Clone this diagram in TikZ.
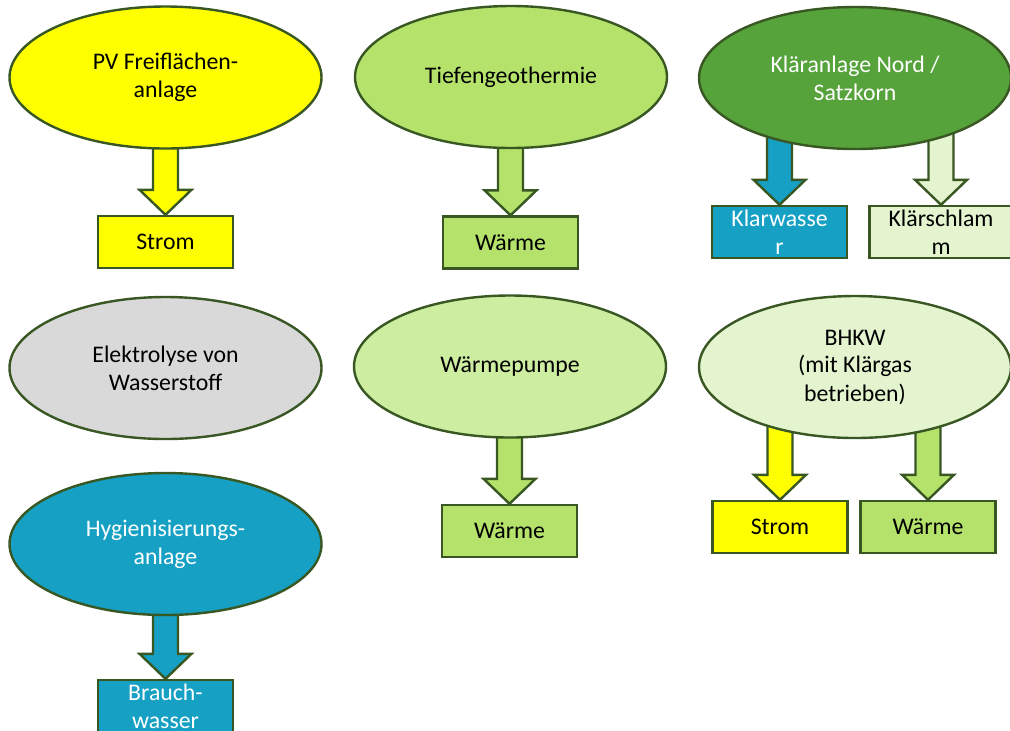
\documentclass[tikz,border=0pt]{standalone}
\usepackage{fontspec}
\setmainfont{Carlito}
\usetikzlibrary{shapes.geometric,backgrounds}
\definecolor{rand}{HTML}{385723}
\definecolor{gelb}{HTML}{FFFF00}
\definecolor{hellgruen}{HTML}{B4E26B}
\definecolor{mintgruen}{HTML}{CDEDA0}
\definecolor{blassgruen}{HTML}{E3F4CF}
\definecolor{dunkelgruen}{HTML}{56A23B}
\definecolor{blau}{HTML}{15A0C4}
\definecolor{grau}{HTML}{D9D9D9}

\begin{document}
\begin{tikzpicture}[x=0.5pt,y=-0.5pt,font=\fontsize{11.9}{14}\selectfont]
% Styles
\tikzstyle{quelle}=[ellipse,draw=rand,line width=1.2pt,minimum width=156pt,minimum height=71pt,inner sep=0pt,align=center]
\tikzstyle{produkt}=[rectangle,draw=rand,line width=1.2pt,minimum width=67.5pt,minimum height=26pt,inner sep=0pt,align=center]
\tikzstyle{pfeil}=[draw=rand,line width=1.2pt]
% Masse der Blockpfeile
\def\Schaft{6.25pt}
\def\Kopf{13pt}
\def\KopfLaenge{12.5pt}
% Text ueber zwei Zeilen (ragt aus dem Kasten)
\def\Zeilen#1{\parbox[c][20pt][c]{62pt}{\centering #1}}
% Blockpfeil : Farbe, Quelle, Ziel
\def\Fluss#1#2#3{%
\coordinate (#3oben) at (#2.center -| #3.north);
\draw[pfeil,fill=#1] ([xshift=-\Schaft]#3oben) -- ([xshift=-\Schaft,yshift=\KopfLaenge]#3.north) -- ([xshift=-\Kopf,yshift=\KopfLaenge]#3.north) -- (#3.north) -- ([xshift=\Kopf,yshift=\KopfLaenge]#3.north) -- ([xshift=\Schaft,yshift=\KopfLaenge]#3.north) -- ([xshift=\Schaft]#3oben) -- cycle;}
\useasboundingbox (0,0) rectangle (1010,730);
% Anlagen
\node[quelle,fill=gelb] (pv) at (165.5,77.5) {PV Freiflächen-\\anlage};
\node[quelle,fill=hellgruen] (tg) at (511,77) {Tiefengeothermie};
\node[quelle,fill=dunkelgruen,text=white] (ka) at (855,78) {Kläranlage Nord /\\Satzkorn};
\node[quelle,fill=grau] (el) at (165.5,368) {Elektrolyse von\\Wasserstoff};
\node[quelle,fill=mintgruen] (wp) at (510,366.5) {Wärmepumpe};
\node[quelle,fill=blassgruen] (bh) at (855,367) {BHKW\\(mit Klärgas\\betrieben)};
\node[quelle,fill=blau,text=white] (hy) at (165.5,544) {Hygienisierungs-\\anlage};
% Produkte
\node[produkt,fill=gelb] (pvS) at (165.5,242) {Strom};
\node[produkt,fill=hellgruen] (tgW) at (510.5,242.5) {Wärme};
\node[produkt,fill=blau,text=white] (kaK) at (779.5,232) {\Zeilen{Klarwasse\\r}};
\node[produkt,fill=blassgruen,minimum width=71.5pt] (kaS) at (941,232) {\Zeilen{Klärschlam\\m}};
\node[produkt,fill=hellgruen] (wpW) at (509.5,531) {Wärme};
\node[produkt,fill=gelb] (bhS) at (780,527) {Strom};
\node[produkt,fill=hellgruen] (bhW) at (928,527) {Wärme};
\node[produkt,fill=blau,text=white] (hyB) at (165.5,706) {\Zeilen{Brauch-\\wasser}};
% Pfeile
\begin{scope}[on background layer]
\Fluss{gelb}{pv}{pvS}
\Fluss{hellgruen}{tg}{tgW}
\Fluss{blau}{ka}{kaK}
\Fluss{blassgruen}{ka}{kaS}
\Fluss{hellgruen}{wp}{wpW}
\Fluss{gelb}{bh}{bhS}
\Fluss{hellgruen}{bh}{bhW}
\Fluss{blau}{hy}{hyB}
\end{scope}
\end{tikzpicture}
\end{document}
